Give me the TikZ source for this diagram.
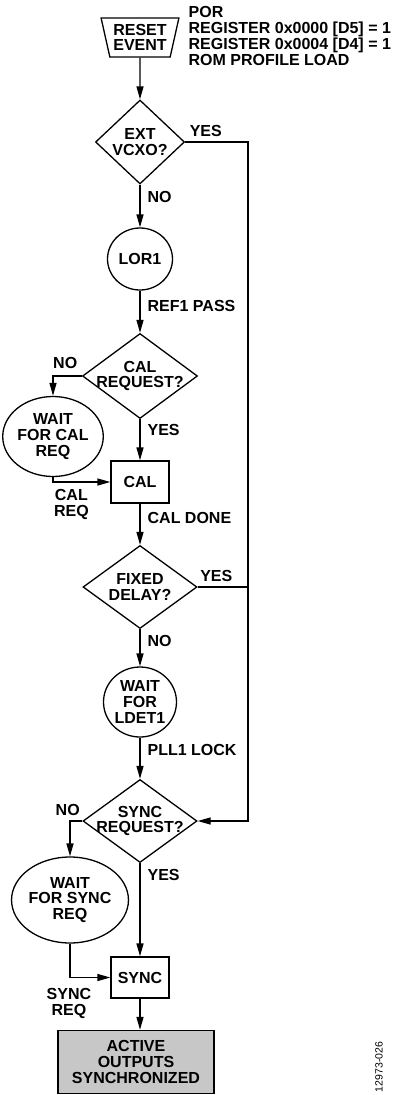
\documentclass[tikz,border=0pt]{standalone}
\usepackage{fontspec}
\setmainfont{Liberation Sans}
\usepackage{tikz}
\usetikzlibrary{shapes.geometric}
\usetikzlibrary{arrows.meta,positioning}
\tikzset{
	% Node styles for the flow chart: start, decision, state, step and end
	start node/.style={trapezium,draw,trapezium stretches=true,shape border rotate=180,trapezium angle=74,minimum width=78,minimum height=39,inner sep=0,align=center},
	decision node/.style={diamond,draw,minimum width=114,minimum height=83,inner xsep=-14pt,inner ysep=-8pt,align=center},
	state node/.style={ellipse,draw,inner sep=0,align=center},
	stepbox/.style={rectangle,draw,minimum width=58,minimum height=42,inner sep=0},
	end node/.style={rectangle,draw,fill=black!22,minimum width=156,minimum height=63,inner sep=0,align=center},
	flow label/.style={inner sep=0,align=center},
	flow/.style={-{Triangle[length=13pt,width=7pt]}}
}

\begin{document}
\begin{tikzpicture}[x=1pt,y=-1pt,line width=1.3pt,font=\bfseries\fontsize{16}{15.8}\selectfont]
	\useasboundingbox (0,0) rectangle (396,1095);
	% macro for the labels on the connectors
	\newcommand{\flowlabel}[3][below right=6pt and 7pt]{\node[flow label,#1 of #2]{#3};}
	
	\node(reset)[start node] at (140,37.5) {RESET\\EVENT};
	\node(por)[flow label,anchor=west,align=left] at (188,36) {POR\\REGISTER 0x0000 [D5] = 1\\REGISTER 0x0004 [D4] = 1\\ROM PROFILE LOAD};
	
	\node(ext)[decision node,minimum width=89,minimum height=84] at (140,142) {EXT\\VCXO?};
	\node(lor)[state node,minimum width=65,minimum height=62] at (140,259) {LOR1};
	\node(calreq)[decision node,minimum width=115,minimum height=85] at (140,376) {CAL\\REQUEST?};
	\node(waitcal)[state node,minimum width=84,minimum height=80] at (53,436.5) {WAIT\\FOR CAL\\REQ};
	\node(cal)[stepbox] at (140,482) {CAL};
	\node(fixed)[decision node] at (140,587) {FIXED\\DELAY?};
	\node(ldet)[state node,minimum width=73,minimum height=70] at (140,702) {WAIT\\FOR\\LDET1};
	\node(sync)[decision node] at (140,821) {SYNC\\REQUEST?};
	\node(waitsync)[state node,minimum width=95,minimum height=86] at (70,900) {WAIT\\FOR SYNC\\REQ};
	\node(syncbox)[stepbox,minimum height=41] at (140,977.5) {SYNC};
	\node(active)[end node] at (136,1062) {ACTIVE\\OUTPUTS\\SYNCHRONIZED};
	
	\coordinate (rail) at (248,0);
	
	% connectors
	\draw[flow] (reset) -- (ext);
	\draw[flow] (ext.east) -- (ext.east -| rail) -- (sync.east -| rail) -- (sync.east);
	\draw (fixed.east) -- (fixed.east -| rail);
	\draw[flow] (ext) -- (lor);
	\draw[flow] (lor) -- (calreq);
	\draw[flow] (calreq.west) -| (waitcal.north);
	\draw[flow] (calreq) -- (cal);
	\draw[flow] (waitcal.south) |- (cal.west);
	\draw[flow] (cal) -- (fixed);
	\draw[flow] (fixed) -- (ldet);
	\draw[flow] (ldet) -- (sync);
	\draw[flow] (sync.west) -| (waitsync.north);
	\draw[flow] (sync) -- (syncbox);
	\draw[flow] (waitsync.south) |- (syncbox.west);
	\draw[flow] (syncbox.south) -- (syncbox.south |- active.north);
	
	\flowlabel[above right=4.5pt and 4pt]{ext.east}{YES}
	\flowlabel[below right=6.5pt and 7pt]{ext.south}{NO}
	\flowlabel[below right=9.5pt and 7pt]{lor.south}{REF1 PASS}
	\flowlabel[above left=6.5pt and 4pt]{calreq.west}{NO}
	\flowlabel[below right=4.5pt and 7pt]{calreq.south}{YES}
	\flowlabel[below left=6.5pt and 21pt]{cal.west}{CAL\\REQ}
	\flowlabel[below right=8.5pt and 7pt]{cal.south}{CAL DONE}
	\flowlabel[above right=5pt and 2pt]{fixed.east}{YES}
	\flowlabel[below right=5.5pt and 7pt]{fixed.south}{NO}
	\flowlabel[below right=6.5pt and 7pt]{ldet.south}{PLL1 LOCK}
	\flowlabel[above left=4.5pt and 2pt]{sync.west}{NO}
	\flowlabel[below right=5.5pt and 7pt]{sync.south}{YES}
	\flowlabel[below left=10.5pt and 18.5pt]{syncbox.west}{SYNC\\REQ}
	
	\node(fignum)[rotate=90,font=\mdseries\fontsize{10.5}{11}\selectfont] at (379,1067) {12973-026};
\end{tikzpicture}
\end{document}
